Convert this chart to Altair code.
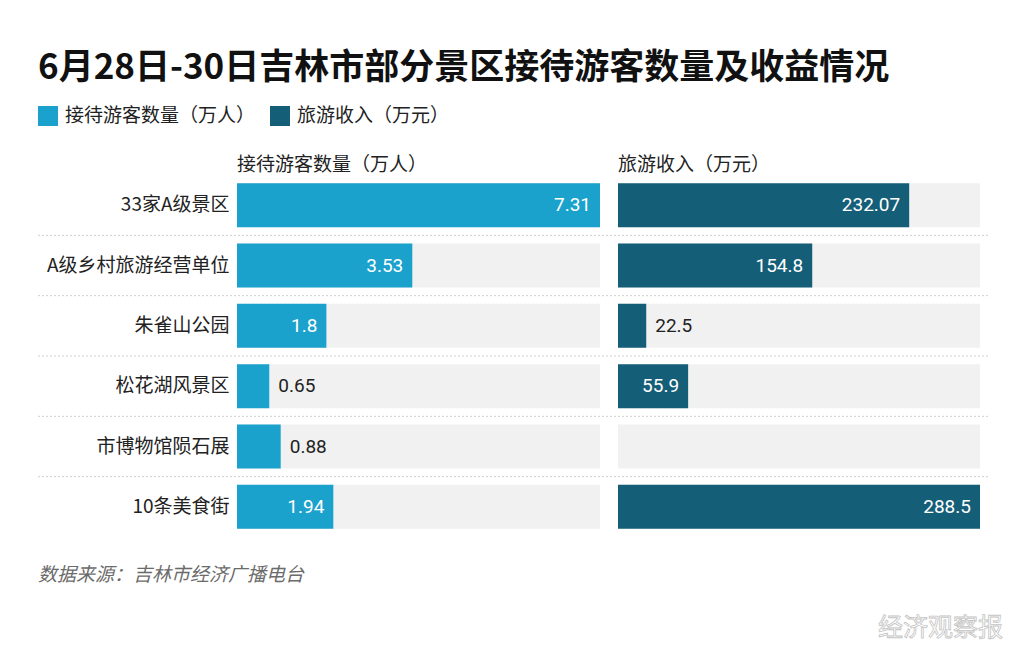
import altair as alt
import pandas as pd

# ---- data ----
categories = ["33家A级景区", "A级乡村旅游经营单位", "朱雀山公园", "松花湖风景区", "市博物馆陨石展", "10条美食街"]
visitors = [7.31, 3.53, 1.8, 0.65, 0.88, 1.94]          # 接待游客数量（万人）
revenue = [232.07, 154.8, 22.5, 55.9, None, 288.5]     # 旅游收入（万元）
series_names = ["接待游客数量（万人）", "旅游收入（万元）"]
series_colors = ["#1ba2cc", "#155e78"]
title_text = "6月28日-30日吉林市部分景区接待游客数量及收益情况"
source_text = "数据来源：吉林市经济广播电台"
watermark_text = "经济观察报"

rows = []
for c, v, r in zip(categories, visitors, revenue):
    rows.append({"cat": c, "series": series_names[0], "value": v})
    if r is not None:
        rows.append({"cat": c, "series": series_names[1], "value": r})
long_df = pd.DataFrame(rows)
cat_df = pd.DataFrame({"cat": categories})
sep_df = pd.DataFrame({"cat": categories[:-1]})

# ---- layout ----
W, H = 743, 362
LW = 363            # left panel width
RX0, RX1 = 381, 743  # right panel range
step = H / len(categories)
FONT = "Noto Sans CJK SC"
NUMFONT = "Roboto"
FS = 19

y_enc = alt.Y(
    "cat:N", sort=categories, title=None,
    scale=alt.Scale(paddingInner=0.27, paddingOuter=0.135),
    axis=alt.Axis(domain=False, ticks=False, labelFontSize=FS, labelFont=FONT,
                  labelColor="#222222", labelPadding=8, labelLimit=220,
                  minExtent=199, maxExtent=199),
)

left_x = alt.X("value:Q", title=None, axis=None,
               scale=alt.Scale(domain=[0, max(visitors)], range=[0, LW], nice=False))
right_x = alt.X("value:Q", title=None, axis=None,
                scale=alt.Scale(domain=[0, max(r for r in revenue if r is not None)],
                                range=[RX0, RX1], nice=False))

color_enc = alt.Color(
    "series:N",
    scale=alt.Scale(domain=series_names, range=series_colors),
    legend=alt.Legend(orient="none", legendX=-199, legendY=-69, direction="horizontal",
                      title=None, symbolType="square", symbolSize=400, symbolStrokeWidth=0,
                      symbolOpacity=1, labelFontSize=FS, labelFont=FONT, labelColor="#222222",
                      labelOffset=7, columnPadding=14, labelLimit=300),
)

base = alt.Chart(long_df)

track_left = alt.Chart(cat_df).mark_bar(color="#f1f1f1").encode(
    y=y_enc, x=alt.value(0), x2=alt.value(LW))
track_right = alt.Chart(cat_df).mark_bar(color="#f1f1f1").encode(
    y=y_enc, x=alt.value(RX0), x2=alt.value(RX1))

seps = alt.Chart(sep_df).mark_rule(strokeDash=[2, 2], color="#cfcfcf", strokeWidth=1,
                                   yOffset=step / 2).encode(
    y=y_enc, x=alt.value(-199), x2=alt.value(751))

left_data = base.transform_filter(alt.datum.series == series_names[0]).transform_joinaggregate(
    vmax="max(value)").transform_calculate(frac="datum.value / datum.vmax")
right_data = base.transform_filter(alt.datum.series == series_names[1]).transform_joinaggregate(
    vmax="max(value)").transform_calculate(frac="datum.value / datum.vmax")

left_bars = left_data.mark_bar().encode(y=y_enc, x=left_x, color=color_enc)
right_bars = right_data.mark_bar().encode(y=y_enc, x=right_x, color=color_enc)

lbl_in = dict(align="right", dx=-9, color="white", fontSize=FS, font=NUMFONT, baseline="middle")
lbl_out = dict(align="left", dx=9, color="#222222", fontSize=FS, font=NUMFONT, baseline="middle")

left_in = left_data.transform_filter("datum.frac >= 0.15").mark_text(**lbl_in).encode(
    y=y_enc, x=left_x, text=alt.Text("value:Q"))
left_out = left_data.transform_filter("datum.frac < 0.15").mark_text(**lbl_out).encode(
    y=y_enc, x=left_x, text=alt.Text("value:Q"))
right_in = right_data.transform_filter("datum.frac >= 0.15").mark_text(**lbl_in).encode(
    y=y_enc, x=right_x, text=alt.Text("value:Q"))
right_out = right_data.transform_filter("datum.frac < 0.15").mark_text(**lbl_out).encode(
    y=y_enc, x=right_x, text=alt.Text("value:Q"))

headers_df = pd.DataFrame({"label": series_names, "px": [0, RX0]})
headers = alt.Chart(headers_df).mark_text(align="left", baseline="middle", fontSize=FS,
                                          font=FONT, color="#222222").encode(
    x=alt.X("px:Q", scale=None), y=alt.value(-10), text="label:N")

source = alt.Chart(pd.DataFrame({"t": [source_text]})).mark_text(
    align="left", baseline="middle", fontSize=FS, font=FONT, fontStyle="italic",
    color="#6b6b6b").encode(x=alt.value(-199), y=alt.value(H + 38), text="t:N")

watermark = alt.Chart(pd.DataFrame({"t": [watermark_text]})).mark_text(
    align="left", baseline="middle", fontSize=25, font=FONT, color="#ffffff",
    stroke="#c4c4c4", strokeWidth=0.8).encode(x=alt.value(641), y=alt.value(H + 91), text="t:N")

chart = alt.layer(
    track_left, track_right, seps, left_bars, right_bars,
    left_in, left_out, right_in, right_out, headers, source, watermark,
).resolve_scale(x="independent").properties(
    width=W, height=H,
    background="white",
    autosize=alt.AutoSizeParams(type="none"),
    padding={"left": 229, "top": 167, "right": 36, "bottom": 108},
    title=alt.Title(title_text, anchor="start", frame="group", dx=-199, fontSize=35,
                    font=FONT, fontWeight="bold", color="#111111", offset=20),
).configure_view(strokeWidth=0, stroke="transparent")

chart.save("out.html", embed_options={"renderer": "svg", "actions": False})
